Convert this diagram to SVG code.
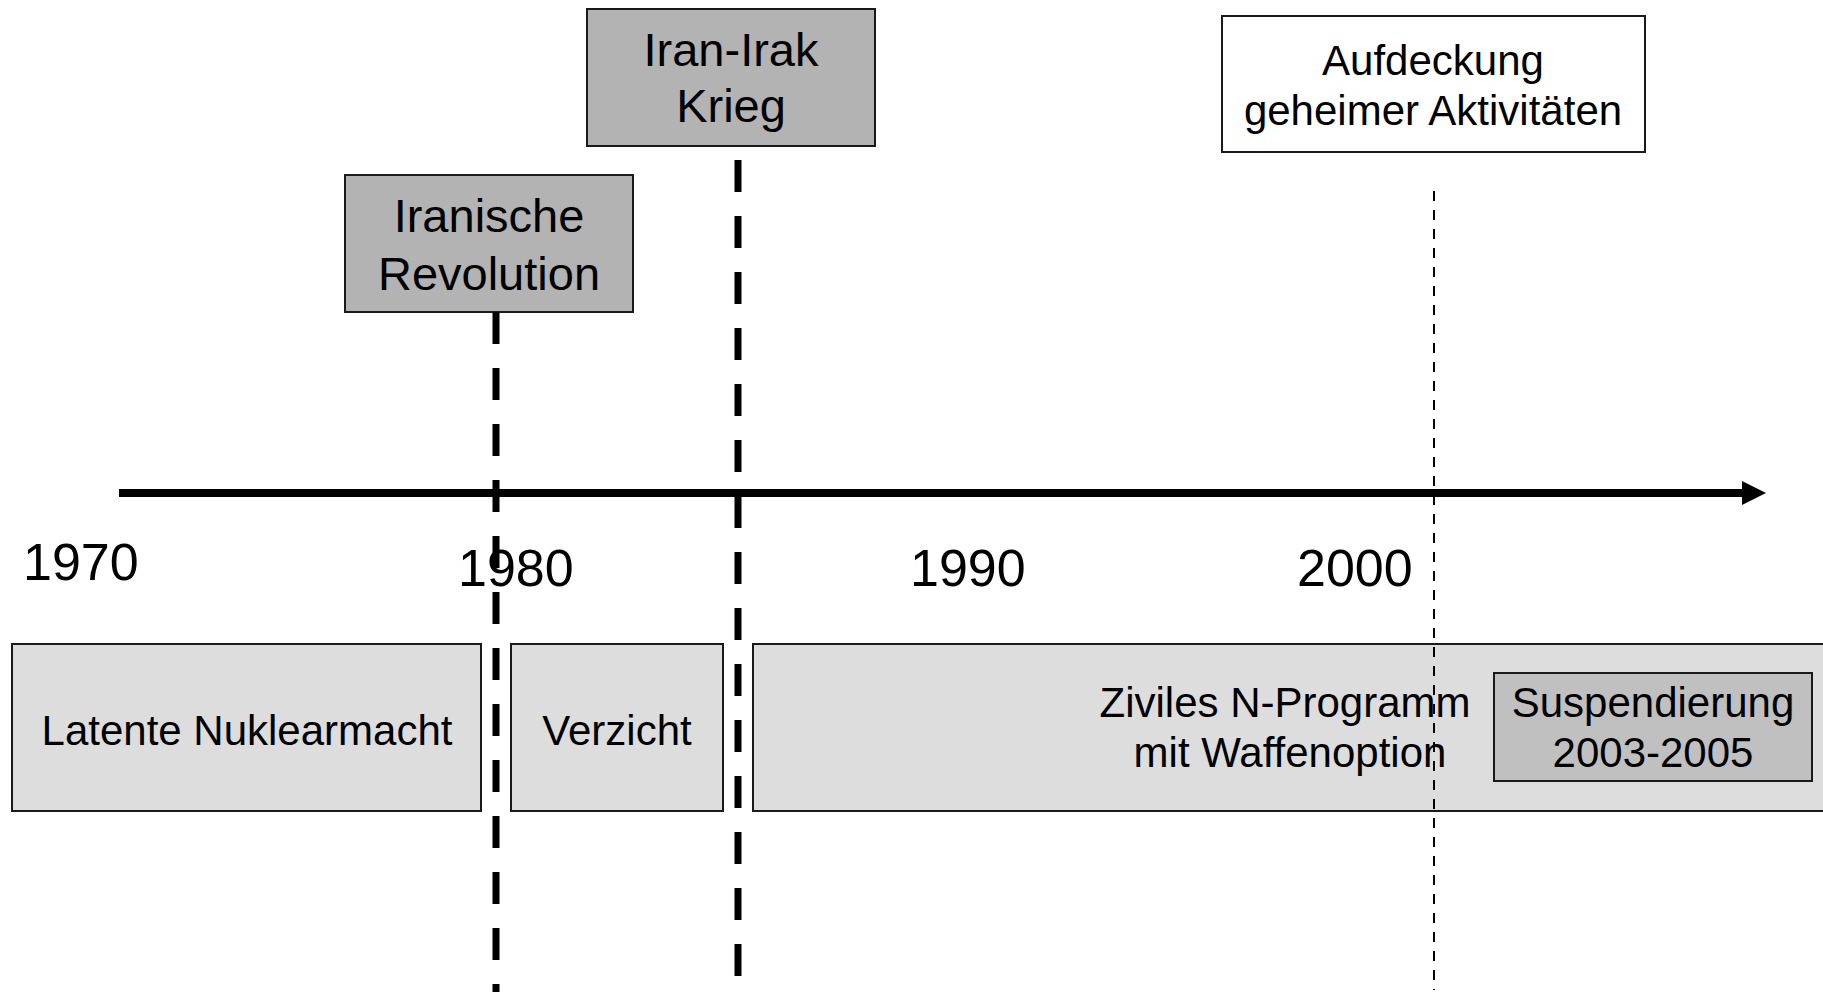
<svg xmlns="http://www.w3.org/2000/svg" width="1823" height="992" viewBox="0 0 1823 992">
<style>
text{font-family:"Liberation Sans",Arial,sans-serif;fill:#000;text-anchor:middle}
.box{stroke:#1a1a1a;stroke-width:2}
.event{fill:#b3b3b3}
.phase{fill:#dddddd}
.t47{font-size:47px}
.t42{font-size:42px}
.yr{font-size:52px;text-anchor:start}
.thick{stroke:#000;stroke-width:7;stroke-dasharray:32 24;fill:none}
.thin{stroke:#000;stroke-width:2;stroke-dasharray:10 9;fill:none}
</style>
<rect width="1823" height="992" fill="#fff"/>
<g id="years">
<text class="yr" x="23" y="580">1970</text>
<text class="yr" x="458" y="586">1980</text>
<text class="yr" x="910" y="586">1990</text>
<text class="yr" x="1297" y="586">2000</text>
</g>
<g id="iran-irak">
<rect class="box event" x="587" y="9" width="288" height="137"/>
<text class="t47" x="731" y="66">Iran-Irak</text>
<text class="t47" x="731" y="122">Krieg</text>
</g>
<g id="revolution">
<rect class="box event" x="345" y="175" width="288" height="137"/>
<text class="t47" x="489" y="232">Iranische</text>
<text class="t47" x="489" y="290">Revolution</text>
</g>
<g id="aufdeckung">
<rect class="box" fill="#fff" x="1222" y="16" width="423" height="136"/>
<text class="t42" x="1433" y="75">Aufdeckung</text>
<text class="t42" x="1433" y="125">geheimer Aktivitäten</text>
</g>
<g id="latent">
<rect class="box phase" x="12" y="644" width="469" height="167"/>
<text class="t42" x="247" y="745">Latente Nuklearmacht</text>
</g>
<g id="verzicht">
<rect class="box phase" x="511" y="644" width="212" height="167"/>
<text class="t42" x="617" y="745">Verzicht</text>
</g>
<g id="zivil">
<rect class="box phase" x="753" y="644" width="1080" height="167"/>
<text class="t42" x="1285" y="717">Ziviles N-Programm</text>
<text class="t42" x="1290" y="767">mit Waffenoption</text>
</g>
<g id="suspendierung">
<rect class="box" fill="#c0c0c0" x="1494" y="673" width="318" height="108"/>
<text class="t42" x="1653" y="717">Suspendierung</text>
<text class="t42" x="1653" y="767">2003-2005</text>
</g>
<g id="connectors">
<line x1="119" y1="493" x2="1744" y2="493" stroke="#000" stroke-width="8"/>
<polygon points="1742,481 1766,493 1742,505" fill="#000"/>
<line class="thick" x1="496" y1="312" x2="496" y2="992"/>
<line class="thick" x1="738" y1="160" x2="738" y2="976"/>
<line class="thin" x1="1434" y1="191" x2="1434" y2="990"/>
</g>
</svg>
